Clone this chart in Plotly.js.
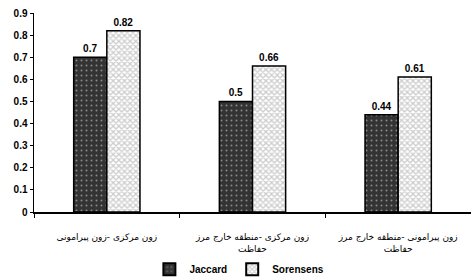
<!DOCTYPE html>
<html>
<head>
<meta charset="utf-8">
<script src="https://cdn.plot.ly/plotly-3.0.1.min.js"></script>
<style>html,body{margin:0;padding:0;background:#fff;}#chart{width:471px;height:279px;}</style>
</head>
<body>
<div id="chart"></div>
<script>
const categories = [
  "زون مرکزی -زون پیرامونی",
  "زون مرکزی -منطقه خارج مرز<br>حفاظت",
  "زون پیرامونی -منطقه خارج مرز<br>حفاظت"
];
const jaccard = [0.7, 0.5, 0.44];
const sorensens = [0.82, 0.66, 0.61];
const yTicks = [0, 0.1, 0.2, 0.3, 0.4, 0.5, 0.6, 0.7, 0.8, 0.9];
const yTickText = ["0", "0.1", "0.2", "0.3", "0.4", "0.5", "0.6", "0.7", "0.8", "0.9"];

const boldFont = {family: "Liberation Sans, Arial, sans-serif", size: 10, color: "#000", weight: "bold"};

const traces = [
  {
    type: "bar", name: "Jaccard", x: categories, y: jaccard,
    text: jaccard.map(String), textposition: "outside", cliponaxis: false,
    textfont: boldFont,
    marker: {color: "#333333", line: {color: "#000", width: 1.5},
      pattern: {shape: ".", fgcolor: "#e0e0e0", bgcolor: "#333333", size: 5, solidity: 0.12, fillmode: "overlay"}}
  },
  {
    type: "bar", name: "Sorensens", x: categories, y: sorensens,
    text: sorensens.map(String), textposition: "outside", cliponaxis: false,
    textfont: boldFont,
    marker: {color: "#ffffff", line: {color: "#000", width: 1.5},
      pattern: {shape: "x", fgcolor: "#999999", bgcolor: "#ffffff", size: 4, solidity: 0.55, fillmode: "overlay"}}
  }
];

const layout = {
  width: 471, height: 279,
  margin: {l: 34, r: 0, t: 13, b: 67, autoexpand: false},
  paper_bgcolor: "#fff", plot_bgcolor: "#fff",
  barmode: "group", bargap: 0.545, bargroupgap: 0,
  showlegend: true,
  legend: {orientation: "h", x: 0.47, xanchor: "center", y: -0.215, yanchor: "top",
    font: {family: "Liberation Sans, Arial, sans-serif", size: 10, color: "#000", weight: "bold"},
    itemwidth: 30, tracegroupgap: 0, itemsizing: "constant"},
  xaxis: {
    type: "category", showline: true, linecolor: "#000", linewidth: 1.5,
    ticks: "outside", tickson: "boundaries", ticklen: 4, tickcolor: "#000",
    showgrid: false, tickangle: 0, automargin: false, ticklabelstandoff: 16,
    tickfont: {family: "DejaVu Sans, sans-serif", size: 9, color: "#000"}
  },
  yaxis: {
    range: [0, 0.9], tickvals: yTicks, ticktext: yTickText,
    showline: true, linecolor: "#000", linewidth: 1.5,
    ticks: "outside", ticklen: 3, tickcolor: "#000",
    showgrid: false, zeroline: false, automargin: false,
    tickfont: boldFont
  }
};

Plotly.newPlot("chart", traces, layout, {displayModeBar: false, staticPlot: true});
</script>
</body>
</html>
